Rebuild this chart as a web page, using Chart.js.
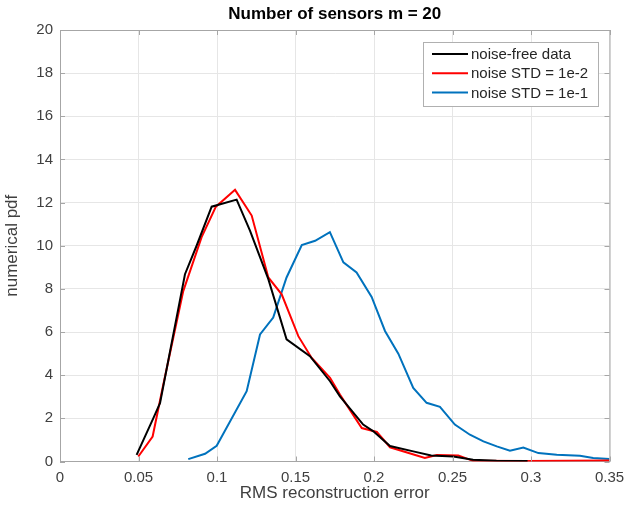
<!DOCTYPE html>
<html>
<head>
<meta charset="utf-8">
<script src="https://cdn.jsdelivr.net/npm/chart.js@4/dist/chart.umd.min.js"></script>
<style>
  html, body { margin: 0; padding: 0; background: #fff; }
  #wrap { width: 634px; height: 510px; }
</style>
</head>
<body>
<div id="wrap"><canvas id="pdfChart"></canvas></div>
<script>
// RMS error vs numerical pdf
const chartTitle = 'Number of sensors m = 20';
const labels = ['noise-free data', 'noise STD = 1e-2', 'noise STD = 1e-1'];

const cleanX = [0.0488, 0.0594, 0.0637, 0.0796, 0.087, 0.0966, 0.1125, 0.121, 0.1327, 0.1443, 0.1592, 0.172, 0.1783, 0.1931, 0.1996, 0.2102, 0.225, 0.2364, 0.2505, 0.2631, 0.278, 0.2978];
const cleanY = [0.31, 2.0, 2.7, 8.68, 10.0, 11.81, 12.14, 10.7, 8.45, 5.66, 4.88, 3.72, 3.02, 1.71, 1.4, 0.72, 0.47, 0.28, 0.23, 0.08, 0.04, 0.02];

const lowNoiseX = [0.0499, 0.059, 0.0658, 0.0785, 0.0902, 0.0993, 0.1115, 0.1221, 0.1327, 0.1412, 0.1518, 0.1602, 0.172, 0.1783, 0.1922, 0.2018, 0.2102, 0.2324, 0.24, 0.2537, 0.2631, 0.2978, 0.35];
const lowNoiseY = [0.23, 1.16, 3.57, 7.9, 10.4, 11.81, 12.59, 11.4, 8.53, 7.75, 5.81, 4.81, 3.88, 3.1, 1.55, 1.37, 0.66, 0.16, 0.3, 0.28, 0.03, 0.02, 0.05];

const highNoiseX = [0.0817, 0.0924, 0.0998, 0.1189, 0.1274, 0.1358, 0.1443, 0.154, 0.1625, 0.1719, 0.1805, 0.1889, 0.1985, 0.207, 0.2155, 0.225, 0.2335, 0.242, 0.2515, 0.2611, 0.2697, 0.2782, 0.2866, 0.2951, 0.3047, 0.3164, 0.3312, 0.3396, 0.35];
const highNoiseY = [0.11, 0.36, 0.73, 3.26, 5.89, 6.67, 8.53, 10.03, 10.23, 10.63, 9.23, 8.76, 7.63, 6.05, 5.0, 3.41, 2.72, 2.53, 1.71, 1.24, 0.93, 0.7, 0.5, 0.65, 0.39, 0.31, 0.27, 0.16, 0.12];

const xTicks = [0, 0.05, 0.1, 0.15, 0.2, 0.25, 0.3, 0.35];
const yTicks = [0, 2, 4, 6, 8, 10, 12, 14, 16, 18, 20];

const colors = ['#000000', '#ff0000', '#0072bd'];
const textColor = '#404040';
const axisColor = '#a6a6a6';
const fontFamily = "'Liberation Sans', Arial, sans-serif";

const toPoints = (xs, ys) => xs.map((x, i) => ({ x: x, y: ys[i] }));

// MATLAB style box: title over the axes, top/right edges, inward ticks, legend inside
const matlabBox = {
    id: 'matlabBox',
    afterDraw(chart) {
        const { ctx, chartArea: a, scales } = chart;
        ctx.save();

        ctx.font = 'bold 17px ' + fontFamily;
        ctx.fillStyle = '#000';
        ctx.textAlign = 'center';
        ctx.textBaseline = 'middle';
        ctx.fillText(chartTitle, (a.left + a.right) / 2, 14);

        ctx.strokeStyle = axisColor;
        ctx.lineWidth = 1;
        ctx.beginPath();
        ctx.moveTo(a.left, a.top + 0.5);
        ctx.lineTo(a.right + 0.5, a.top + 0.5);
        ctx.lineTo(a.right + 0.5, a.bottom);
        xTicks.forEach(v => {
            const px = Math.round(scales.x.getPixelForValue(v)) + 0.5;
            ctx.moveTo(px, a.bottom); ctx.lineTo(px, a.bottom - 5);
            ctx.moveTo(px, a.top); ctx.lineTo(px, a.top + 5);
        });
        yTicks.forEach(v => {
            const py = Math.round(scales.y.getPixelForValue(v)) + 0.5;
            ctx.moveTo(a.left, py); ctx.lineTo(a.left + 5, py);
            ctx.moveTo(a.right, py); ctx.lineTo(a.right - 5, py);
        });
        ctx.stroke();

        // legend
        const bx = 423, by = 42, bw = 175, bh = 64;
        ctx.fillStyle = '#ffffff';
        ctx.fillRect(bx, by, bw, bh);
        ctx.strokeStyle = '#b0b0b0';
        ctx.strokeRect(bx + 0.5, by + 0.5, bw, bh);
        ctx.font = '15px ' + fontFamily;
        ctx.textAlign = 'left';
        ctx.textBaseline = 'middle';
        ctx.fillStyle = '#262626';
        labels.forEach((lab, i) => {
            const ly = by + 12 + i * 19.3;
            ctx.strokeStyle = colors[i];
            ctx.lineWidth = 2;
            ctx.beginPath();
            ctx.moveTo(bx + 9, ly);
            ctx.lineTo(bx + 45, ly);
            ctx.stroke();
            ctx.fillText(lab, bx + 48, ly + 1);
        });
        ctx.restore();
    }
};

new Chart(document.getElementById('pdfChart'), {
    type: 'line',
    data: {
        datasets: [
            { label: labels[0], data: toPoints(cleanX, cleanY), borderColor: colors[0] },
            { label: labels[1], data: toPoints(lowNoiseX, lowNoiseY), borderColor: colors[1] },
            { label: labels[2], data: toPoints(highNoiseX, highNoiseY), borderColor: colors[2] }
        ]
    },
    options: {
        responsive: true,
        maintainAspectRatio: false,
        animation: false,
        layout: { padding: { left: 0, right: 24.5, top: 30, bottom: 0 } },
        elements: {
            line: { borderWidth: 2, tension: 0, fill: false },
            point: { radius: 0 }
        },
        plugins: {
            legend: { display: false },
            tooltip: { enabled: false },
            title: { display: false }
        },
        scales: {
            x: {
                type: 'linear',
                min: 0,
                max: 0.35,
                afterBuildTicks: s => { s.ticks = xTicks.map(v => ({ value: v })); },
                afterFit: s => { s.height = 48.5; },
                ticks: {
                    color: textColor,
                    font: { family: fontFamily, size: 15 },
                    padding: 7,
                    maxRotation: 0,
                    callback: v => String(v)
                },
                grid: { color: '#e6e6e6', drawTicks: false },
                border: { display: true, color: axisColor },
                title: {
                    display: true,
                    text: 'RMS reconstruction error',
                    color: textColor,
                    font: { family: fontFamily, size: 17 },
                    padding: { top: 0, bottom: 6 }
                }
            },
            y: {
                min: 0,
                max: 20,
                afterBuildTicks: s => { s.ticks = yTicks.map(v => ({ value: v })); },
                afterFit: s => { s.width = 60; },
                ticks: {
                    color: textColor,
                    font: { family: fontFamily, size: 15 },
                    padding: 7
                },
                grid: { color: '#e6e6e6', drawTicks: false },
                border: { display: true, color: axisColor },
                title: {
                    display: true,
                    text: 'numerical pdf',
                    color: textColor,
                    font: { family: fontFamily, size: 17 },
                    padding: { top: 2, bottom: 0 }
                }
            }
        }
    },
    plugins: [matlabBox]
});
</script>
</body>
</html>
